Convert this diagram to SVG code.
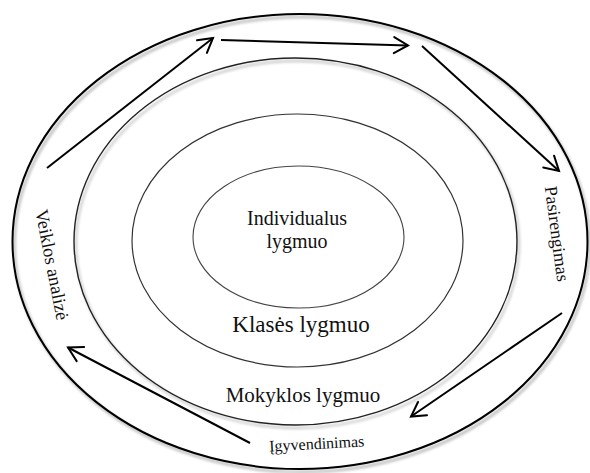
<svg xmlns="http://www.w3.org/2000/svg" width="590" height="473" viewBox="0 0 590 473">
<style>
.t{font-family:"Liberation Serif","Times New Roman",serif;fill:#111;text-anchor:middle}
.ring{fill:none}
.arr{stroke:#000;stroke-width:2;fill:none;marker-end:url(#ah)}
</style>
<defs>
<marker id="ah" markerUnits="userSpaceOnUse" markerWidth="20" markerHeight="20" refX="0" refY="0" viewBox="-16 -10 18 20" orient="auto" overflow="visible">
<path d="M-14,-8 L0,0 L-14,8" fill="none" stroke="#000" stroke-width="2" stroke-linecap="round" stroke-linejoin="miter"/>
</marker>
<filter id="sh" x="-10%" y="-10%" width="120%" height="120%">
<feGaussianBlur in="SourceAlpha" stdDeviation="1.5"/>
<feOffset dx="2" dy="3" result="b"/>
<feComponentTransfer><feFuncA type="linear" slope="0.35"/></feComponentTransfer>
<feMerge><feMergeNode/><feMergeNode in="SourceGraphic"/></feMerge>
</filter>
</defs>
<rect width="590" height="473" fill="#fff"/>
<g id="outer">
<ellipse class="ring" cx="300" cy="241.5" rx="287.5" ry="227.5" stroke="#000" stroke-width="2" filter="url(#sh)"/>
</g>
<g id="mokyklos">
<ellipse class="ring" cx="295.5" cy="241.5" rx="221.5" ry="183.5" stroke="#222" stroke-width="1.4" filter="url(#sh)"/>
<text class="t" x="303" y="402" font-size="21">Mokyklos lygmuo</text>
</g>
<g id="klases">
<ellipse class="ring" cx="297.5" cy="240.5" rx="165.5" ry="126.5" stroke="#333" stroke-width="1.2"/>
<text class="t" x="301" y="332" font-size="23">Klasės lygmuo</text>
</g>
<g id="individualus">
<ellipse class="ring" cx="298.5" cy="237" rx="105.5" ry="71" stroke="#444" stroke-width="1.1"/>
<text class="t" x="297" y="225" font-size="20">Individualus</text>
<text class="t" x="297" y="248" font-size="20">lygmuo</text>
</g>
<g id="pasirengimas">
<text class="t" font-size="18" transform="translate(556,234) rotate(82.5)" x="0" y="5">Pasirengimas</text>
</g>
<g id="igyvendinimas">
<text class="t" font-size="16" transform="translate(317,449) rotate(-3)" x="0" y="0">Įgyvendinimas</text>
</g>
<g id="veiklos">
<text class="t" font-size="18.5" transform="translate(51,265) rotate(79)" x="0" y="5">Veiklos analizė</text>
</g>
<g id="connectors">
<line class="arr" x1="47" y1="168" x2="213" y2="38"/>
<line class="arr" x1="221" y1="40" x2="408" y2="45.5"/>
<line class="arr" x1="422" y1="46" x2="559" y2="171"/>
<line class="arr" x1="562" y1="313" x2="411" y2="416.5"/>
<line class="arr" x1="250" y1="443" x2="68" y2="347.5"/>
</g>
</svg>
